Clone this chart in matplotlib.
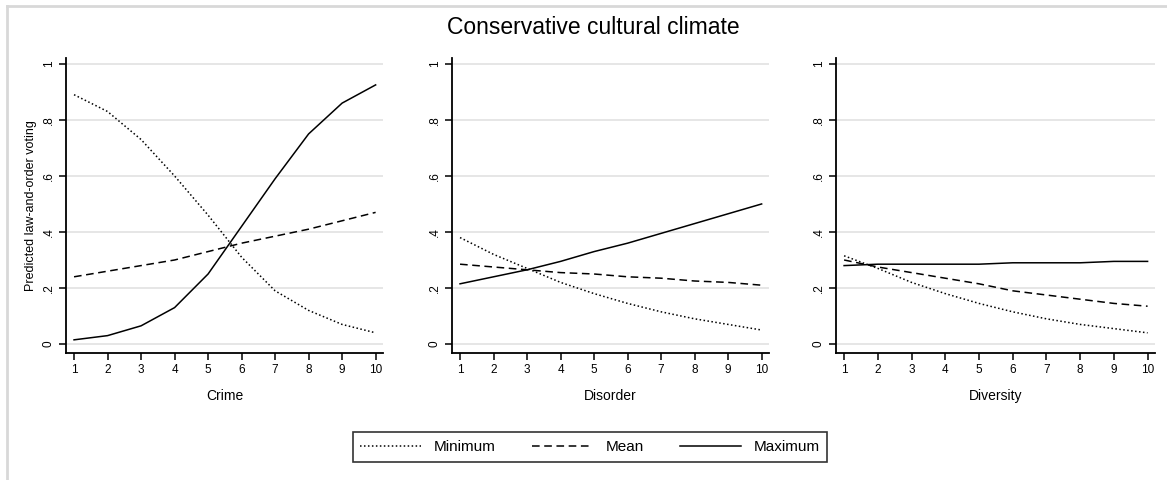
import matplotlib
matplotlib.use("Agg")
import matplotlib.pyplot as plt
from matplotlib.lines import Line2D

plt.rcParams['font.family'] = ['Liberation Sans', 'DejaVu Sans']

x = [1, 2, 3, 4, 5, 6, 7, 8, 9, 10]
xlabels = ["Crime", "Disorder", "Diversity"]
series_names = ["Minimum", "Mean", "Maximum"]

crime_min = [0.89, 0.83, 0.73, 0.60, 0.46, 0.31, 0.19, 0.12, 0.07, 0.04]
crime_mean = [0.24, 0.26, 0.28, 0.30, 0.33, 0.36, 0.385, 0.41, 0.44, 0.47]
crime_max = [0.015, 0.03, 0.065, 0.13, 0.25, 0.42, 0.59, 0.75, 0.86, 0.925]

disorder_min = [0.38, 0.32, 0.27, 0.22, 0.18, 0.145, 0.115, 0.09, 0.07, 0.05]
disorder_mean = [0.285, 0.275, 0.265, 0.255, 0.25, 0.24, 0.235, 0.225, 0.22, 0.21]
disorder_max = [0.215, 0.24, 0.265, 0.295, 0.33, 0.36, 0.395, 0.43, 0.465, 0.50]

diversity_min = [0.315, 0.27, 0.22, 0.18, 0.145, 0.115, 0.09, 0.07, 0.055, 0.04]
diversity_mean = [0.30, 0.275, 0.255, 0.235, 0.215, 0.19, 0.175, 0.16, 0.145, 0.135]
diversity_max = [0.28, 0.285, 0.285, 0.285, 0.285, 0.29, 0.29, 0.29, 0.295, 0.295]

yticks = [0, 0.2, 0.4, 0.6, 0.8, 1]
yticklabels = ["0", ".2", ".4", ".6", ".8", "1"]

panels = [
    (crime_min, crime_mean, crime_max),
    (disorder_min, disorder_mean, disorder_max),
    (diversity_min, diversity_mean, diversity_max),
]

W, H = 1167, 480
fig = plt.figure(figsize=(W / 100, H / 100), dpi=100)
fig.patch.set_facecolor("white")

# light frame (top and left)
fig.add_artist(Line2D([7 / W, 1.0], [1 - 6 / H, 1 - 6 / H], color="#d8d8d8", lw=2, transform=fig.transFigure))
fig.add_artist(Line2D([7 / W, 7 / W], [0, 1 - 6 / H], color="#d8d8d8", lw=2, transform=fig.transFigure))

lefts = [66, 452, 836]
widths = [317, 317, 319]
ax_top_px, ax_bot_px = 58, 353
styles = [
    dict(linestyle=(0, (1, 1.6)), lw=1.1),
    dict(linestyle=(0, (5, 3)), lw=1.1),
    dict(linestyle="-", lw=1.1),
]

axes = []
for i, (left, w) in enumerate(zip(lefts, widths)):
    ax = fig.add_axes([left / W, 1 - ax_bot_px / H, w / W, (ax_bot_px - ax_top_px) / H])
    axes.append(ax)
    for j, vals in enumerate(panels[i]):
        ax.plot(x, vals, color="black", label=series_names[j], **styles[j])
    ax.set_xlim(0.76, 10.22)
    ax.set_ylim(-0.032, 1.021)
    ax.set_yticks(yticks)
    ax.set_yticklabels(yticklabels, rotation=90, va="center", fontsize=8.5)
    ax.set_xticks(x)
    ax.set_xticklabels([str(v) for v in x], fontsize=8.5)
    ax.grid(axis="y", color="#e6e6e6", lw=1.4)
    ax.set_axisbelow(True)
    for s in ["top", "right"]:
        ax.spines[s].set_visible(False)
    for s in ["left", "bottom"]:
        ax.spines[s].set_linewidth(1.3)
        ax.spines[s].set_color("black")
    ax.tick_params(axis="both", direction="out", length=5, width=1.1, colors="black", pad=3)
    ax.set_xlabel(xlabels[i], fontsize=10, labelpad=9)

axes[0].set_ylabel("Predicted law-and-order voting", fontsize=9, labelpad=4)

fig.text(593 / W, 1 - 27 / H, "Conservative cultural climate", ha="center", va="center", fontsize=16.5)

handles, labels = axes[0].get_legend_handles_labels()
leg = fig.legend(handles, labels, loc="center", bbox_to_anchor=(590 / W, 1 - 447 / H),
                 ncol=3, frameon=True, fancybox=False, edgecolor="black", fontsize=11,
                 handlelength=4, columnspacing=2.4, handletextpad=0.8, borderpad=0.5,
                 borderaxespad=0)
leg.get_frame().set_linewidth(1.2)

fig.savefig("out.png", dpi=100, facecolor="white")
